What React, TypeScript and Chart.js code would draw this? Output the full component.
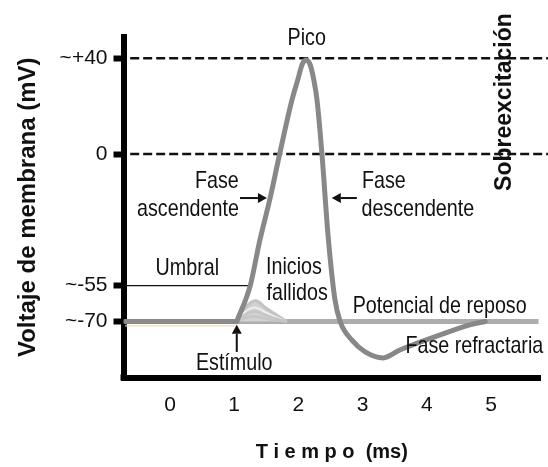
import { useEffect, useRef } from 'react';
import { Chart, registerables } from 'chart.js';

Chart.register(...registerables);

const SANS = '"Liberation Sans", Arial, sans-serif';
const CONDENSE = 0.82;

// Axis ticks
const xTickValues = [0, 1, 2, 3, 4, 5];
const xTickLabels = ['0', '1', '2', '3', '4', '5'];
const yTickValues = [40, 0, -55, -70];
const yTickLabels = ['~+40', '0', '~-55', '~-70'];

// Action potential (time in ms, voltage in mV)
const apTime = [1.04, 1.25, 1.4, 1.56, 1.7, 1.9, 1.99, 2.06, 2.12, 2.18, 2.24, 2.29, 2.37, 2.46, 2.57, 2.65, 2.83, 3.04, 3.32, 3.58, 4.21, 4.67, 4.91];
const apVoltage = [-70, -55, -36, -18.4, -1, 22.6, 31, 37.5, 39.3, 37.5, 31, 22.6, -1, -33.4, -61, -70, -77.7, -82.7, -85.2, -81.9, -75.6, -71.4, -70];

// Resting potential
const restLeftTime = [-0.7, 1.04];
const restLeftVoltage = [-70, -70];
const restShadowVoltage = [-71.8, -71.8];
const restRightTime = [1.04, 5.74];
const restRightVoltage = [-70, -70];

// Failed initiations
const failTime = [1.04, 1.18, 1.33, 1.5, 1.82];
const fail1 = [-70, -64, -61.3, -64.5, -70];
const fail2 = [-70, -65.8, -64.2, -66.3, -70];
const fail3 = [-70, -67, -65.8, -67.6, -70];
const fail4 = [-70, -68.5, -67.8, -68.9, -70];

// Reference lines
const refTime = [-0.62, 5.89];
const peakVoltage = [40, 40];
const zeroVoltage = [0, 0];
const umbralTime = [-0.72, 1.26];
const umbralVoltage = [-55, -55];

// Annotations
const labelTexts = ['Pico', 'Fase', 'ascendente', 'Fase', 'descendente', 'Umbral', 'Inicios', 'fallidos', 'Potencial de reposo', 'Fase refractaria', 'Estímulo'];
const labelTimes = [2.13, 0.73, 0.28, 3.33, 3.86, 0.27, 1.93, 1.98, 4.2, 4.74, 1.0];
const labelVoltages = [48.5, -11.5, -23, -11.3, -23, -47.6, -47.2, -58.1, -63.6, -80.6, -87.7];

const arrowFromTime = [1.09, 2.91, 1.04];
const arrowFromVoltage = [-18.4, -18.4, -82.7];
const arrowToTime = [1.51, 2.52, 1.04];
const arrowToVoltage = [-18.4, -18.4, -71.4];

const sideText = 'Sobreexcitación';
const sideTime = 5.22;
const sideVoltage = 21.7;

const yTitle = 'Voltaje de membrana (mV)';
const xTitle = 'T i e m p o  (ms)';

const pts = (xs: number[], ys: number[]) => xs.map((x, i) => ({ x, y: ys[i] }));

function drawArrow(ctx: CanvasRenderingContext2D, x1: number, y1: number, x2: number, y2: number) {
  const ang = Math.atan2(y2 - y1, x2 - x1);
  const head = 9;
  const half = 5;
  const c = Math.cos(ang);
  const s = Math.sin(ang);
  ctx.beginPath();
  ctx.moveTo(x1, y1);
  ctx.lineTo(x2 - head * c, y2 - head * s);
  ctx.lineWidth = 2;
  ctx.stroke();
  ctx.beginPath();
  ctx.moveTo(x2, y2);
  ctx.lineTo(x2 - head * c + half * s, y2 - head * s - half * c);
  ctx.lineTo(x2 - head * c - half * s, y2 - head * s + half * c);
  ctx.closePath();
  ctx.fill();
}

function condensedText(ctx: CanvasRenderingContext2D, text: string, x: number, y: number) {
  ctx.save();
  ctx.translate(x, y);
  ctx.scale(CONDENSE, 1);
  ctx.fillText(text, 0, 0);
  ctx.restore();
}

const annotationPlugin = {
  id: 'annotations',
  afterDatasetsDraw(chart: any) {
    const { ctx, chartArea } = chart;
    const xs = chart.scales.x;
    const ys = chart.scales.y;
    ctx.save();
    // axis corner
    ctx.fillStyle = '#000';
    ctx.fillRect(chartArea.left - 3, chartArea.bottom - 3, 6, 6);
    ctx.fillStyle = '#111';
    ctx.strokeStyle = '#111';
    ctx.font = `24px ${SANS}`;
    ctx.textAlign = 'center';
    ctx.textBaseline = 'middle';
    labelTexts.forEach((t, i) => {
      condensedText(ctx, t, xs.getPixelForValue(labelTimes[i]), ys.getPixelForValue(labelVoltages[i]));
    });
    arrowFromTime.forEach((_, i) => {
      drawArrow(
        ctx,
        xs.getPixelForValue(arrowFromTime[i]),
        ys.getPixelForValue(arrowFromVoltage[i]),
        xs.getPixelForValue(arrowToTime[i]),
        ys.getPixelForValue(arrowToVoltage[i])
      );
    });
    ctx.font = `bold 23px ${SANS}`;
    ctx.translate(xs.getPixelForValue(sideTime), ys.getPixelForValue(sideVoltage));
    ctx.rotate(-Math.PI / 2);
    ctx.fillText(sideText, 0, 0);
    ctx.restore();
  },
};

export default function App() {
  const ref = useRef<HTMLCanvasElement>(null);
  useEffect(() => {
    document.body.style.margin = '0';
    const canvas = ref.current;
    if (!canvas) return;
    const line = (data: any, color: string, width: number, extra: any = {}) => ({
      data,
      borderColor: color,
      backgroundColor: color,
      borderWidth: width,
      pointRadius: 0,
      fill: false,
      tension: 0,
      ...extra,
    });
    const chart = new Chart(canvas, {
      type: 'line',
      data: {
        datasets: [
          line(pts(apTime, apVoltage), '#888888', 5, { cubicInterpolationMode: 'monotone', borderCapStyle: 'round', borderJoinStyle: 'round' }),
          line(pts(restLeftTime, restLeftVoltage), '#8a8a8a', 5, { borderCapStyle: 'round' }),
          line(pts(restLeftTime, restShadowVoltage), 'rgba(245,215,185,0.7)', 2),
          line(pts(failTime, fail4), '#c6c6c6', 2.5, { tension: 0.4 }),
          line(pts(failTime, fail3), '#c6c6c6', 2.5, { tension: 0.4 }),
          line(pts(failTime, fail2), '#f4f4f4', 1.5, { tension: 0.4 }),
          line(pts(failTime, fail1), '#c2c2c2', 3, { tension: 0.4, fill: { value: -70 }, backgroundColor: '#d2d2d2' }),
          line(pts(restRightTime, restRightVoltage), '#adadad', 5),
          line(pts(umbralTime, umbralVoltage), '#111111', 1.2),
          line(pts(refTime, peakVoltage), '#111111', 2.5, { borderDash: [9, 4], clip: false }),
          line(pts(refTime, zeroVoltage), '#111111', 2.5, { borderDash: [9, 4], clip: false }),
        ],
      },
      options: {
        responsive: false,
        animation: false,
        layout: { padding: { top: 37, right: 8, left: 0, bottom: 0 } },
        plugins: { legend: { display: false }, tooltip: { enabled: false } },
        scales: {
          x: {
            type: 'linear',
            min: -0.724,
            max: 5.763,
            afterBuildTicks: (scale: any) => {
              scale.ticks = xTickValues.map((value) => ({ value }));
            },
            afterFit: (scale: any) => {
              scale.height = 89.5;
            },
            ticks: {
              autoSkip: false,
              maxRotation: 0,
              padding: 15,
              color: '#111',
              font: { family: SANS, size: 21 },
              callback: (_v: any, i: number) => xTickLabels[i],
            },
            grid: { display: false, drawTicks: false },
            border: { display: true, color: '#000', width: 6 },
            title: {
              display: true,
              text: xTitle,
              color: '#111',
              font: { family: SANS, size: 20, weight: 'bold' },
              padding: { top: 0, bottom: 3 },
            },
          },
          y: {
            type: 'linear',
            min: -93.4,
            max: 48.9,
            afterBuildTicks: (scale: any) => {
              scale.ticks = yTickValues.map((value) => ({ value }));
            },
            afterFit: (scale: any) => {
              scale.width = 123.5;
            },
            ticks: {
              autoSkip: false,
              padding: 6,
              color: '#111',
              font: { family: SANS, size: 21 },
              callback: (_v: any, i: number) => yTickLabels[i],
            },
            grid: { drawOnChartArea: false, drawTicks: true, tickLength: 10, tickWidth: 6, tickColor: '#000', color: '#000' },
            border: { display: true, color: '#000', width: 6 },
            title: {
              display: true,
              text: yTitle,
              color: '#111',
              font: { family: SANS, size: 24, weight: 'bold' },
              padding: { top: 14, bottom: 0 },
            },
          },
        },
      },
      plugins: [annotationPlugin],
    });
    return () => chart.destroy();
  }, []);
  return <canvas ref={ref} width={548} height={467} style={{ display: 'block' }} />;
}
